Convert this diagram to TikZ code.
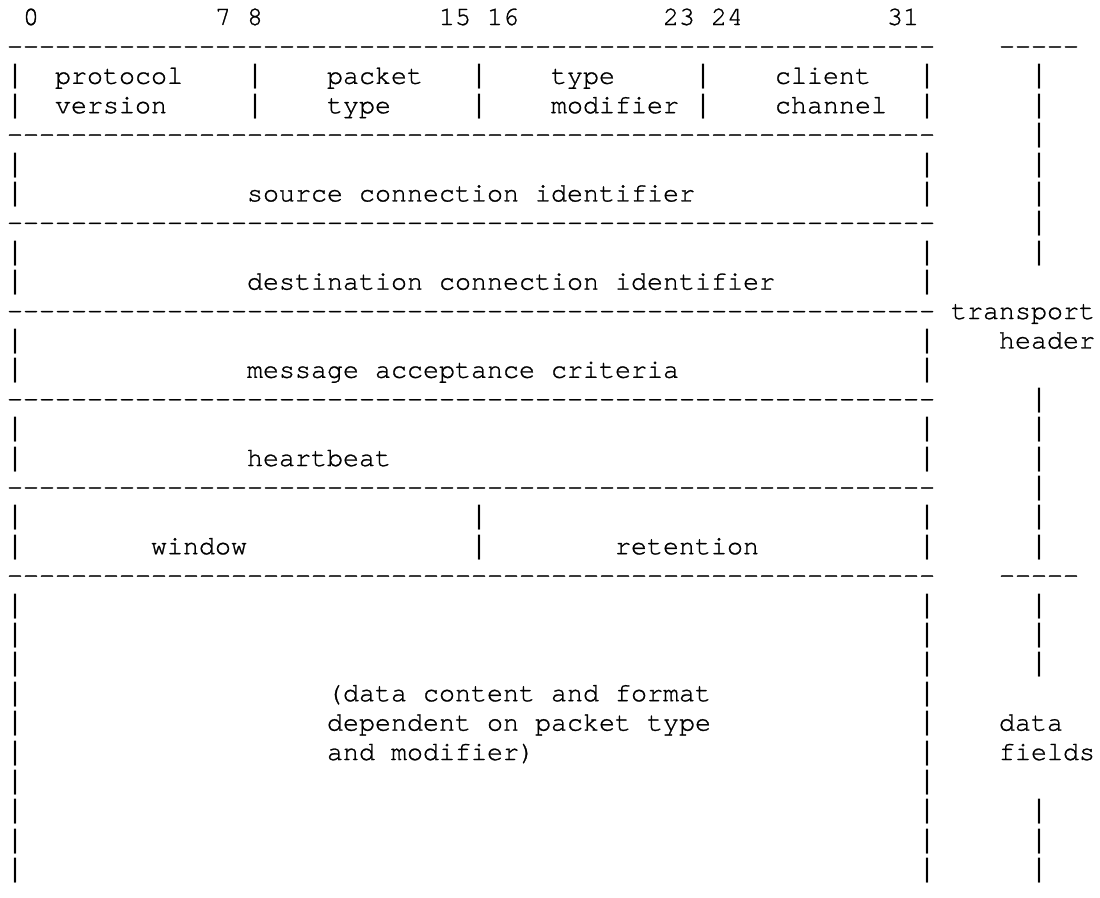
\documentclass[tikz,border=0pt]{standalone}
\usepackage{fontspec}
\setmonofont{texgyrecursor-regular.otf}[Ligatures=NoCommon, FakeBold=1]
\newfontfamily\barfont{Liberation Mono}
\tikzset{
  cell/.style={anchor=base west, inner sep=0pt, outer sep=0pt,
    font=\ttfamily\fontsize{26.67pt}{29.4pt}\selectfont},
  barcell/.style={cell, font=\barfont\fontsize{26.67pt}{29.4pt}\selectfont},
}
\newcommand\dashrun[1]{\foreach \k in {1,...,#1}{-}}

\begin{document}
\begin{tikzpicture}[x=16pt, y=-29.4pt]
\fill[white] (0pt,0pt) rectangle (1100pt,-897pt);
\useasboundingbox (0pt,0pt) rectangle (1100pt,-897pt);
\begin{scope}[shift={(7pt,4.4pt)}]
% bit numbers
\node[cell] (bit0) at (1,1) {0};
\node[cell] (bit7) at (13,1) {7};
\node[cell] (bit8) at (15,1) {8};
\node[cell] (bit15) at (27,1) {15};
\node[cell] (bit16) at (30,1) {16};
\node[cell] (bit23) at (41,1) {23};
\node[cell] (bit24) at (44,1) {24};
\node[cell] (bit31) at (55,1) {31};
% dashed rules
\foreach \r in {2,5,8,11,14,17,20}
  \node[cell] (rule\r) at (0,\r) {\dashrun{58}};
\node[cell] (side2) at (62,2) {\dashrun{5}};
\node[cell] (side20) at (62,20) {\dashrun{5}};
% box borders
\foreach \r in {3,4,6,7,9,10,12,13,15,16,18,19,21,22,...,30}{
  \node[barcell] (left\r) at (0,\r) {|};
  \node[barcell] (right\r) at (57,\r) {|};
}
\foreach \r in {3,...,9,14,15,...,19,21,22,23,28,29,30}
  \node[barcell] (bar\r) at (64,\r) {|};
\foreach \r in {3,4}{
  \node[barcell] (sepa\r) at (15,\r) {|};
  \node[barcell] (sepb\r) at (29,\r) {|};
  \node[barcell] (sepc\r) at (43,\r) {|};
}
\node[barcell] (sepb18) at (29,18) {|};
\node[barcell] (sepb19) at (29,19) {|};
% fields
\node[cell] (proto) at (3,3) {protocol};
\node[cell] (vers) at (3,4) {version};
\node[cell] (pkt) at (20,3) {packet};
\node[cell] (pkttype) at (20,4) {type};
\node[cell] (tmod) at (34,3) {type};
\node[cell] (modif) at (34,4) {modifier};
\node[cell] (client) at (48,3) {client};
\node[cell] (chan) at (48,4) {channel};
\node[cell] (srcid) at (15,7) {source connection identifier};
\node[cell] (dstid) at (15,10) {destination connection identifier};
\node[cell] (accept) at (15,13) {message acceptance criteria};
\node[cell] (beat) at (15,16) {heartbeat};
\node[cell] (window) at (9,19) {window};
\node[cell] (retent) at (38,19) {retention};
\node[cell] (data1) at (20,24) {(data content and format};
\node[cell] (data2) at (20,25) {dependent on packet type};
\node[cell] (data3) at (20,26) {and modifier)};
% side labels
\node[cell] (trans) at (59,11) {transport};
\node[cell] (header) at (62,12) {header};
\node[cell] (dlabel) at (62,25) {data};
\node[cell] (fields) at (62,26) {fields};
\end{scope}
\end{tikzpicture}
\end{document}
